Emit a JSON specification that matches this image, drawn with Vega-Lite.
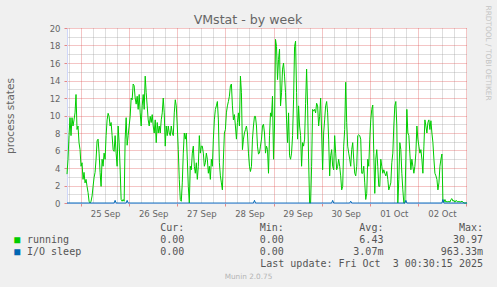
{
 "$schema": "https://vega.github.io/schema/vega-lite/v6.json",
 "width": 400,
 "height": 175,
 "autosize": {"type": "none"},
 "padding": {"left": 67, "top": 28, "right": 30, "bottom": 84},
 "background": "#f0f0f0",
 "config": {"font": "DejaVu Sans", "view": {"stroke": null, "fill": "#ffffff"}},
 "title": {"text": "VMstat - by week", "font": "DejaVu Sans", "fontSize": 12.6, "fontWeight": "normal", "color": "#666666", "anchor": "middle", "frame": "group", "dx": -19, "dy": 26, "offset": 4},
 "layer": [
  {
   "data": {"values": [
{"t":"2025-09-24T17:00Z","running":3.3,"io":0},{"t":"2025-09-24T17:30Z","running":5.0,"io":0},{"t":"2025-09-24T18:00Z","running":7.7,"io":0},{"t":"2025-09-24T18:30Z","running":9.75,"io":0},{"t":"2025-09-24T19:00Z","running":7.7,"io":0},{"t":"2025-09-24T19:30Z","running":9.75,"io":0},{"t":"2025-09-24T20:00Z","running":8.8,"io":0},{"t":"2025-09-24T20:30Z","running":9.5,"io":0},{"t":"2025-09-24T21:00Z","running":10.3,"io":0},{"t":"2025-09-24T21:30Z","running":12.4,"io":0},{"t":"2025-09-24T22:00Z","running":8.4,"io":0},{"t":"2025-09-24T22:30Z","running":8.8,"io":0},{"t":"2025-09-24T23:00Z","running":6.9,"io":0},{"t":"2025-09-24T23:30Z","running":6.1,"io":0},
{"t":"2025-09-25T00:00Z","running":4.2,"io":0},{"t":"2025-09-25T00:30Z","running":4.6,"io":0},{"t":"2025-09-25T01:00Z","running":2.7,"io":0},{"t":"2025-09-25T01:30Z","running":3.5,"io":0},{"t":"2025-09-25T02:00Z","running":2.3,"io":0},{"t":"2025-09-25T02:30Z","running":2.7,"io":0},{"t":"2025-09-25T03:00Z","running":1.9,"io":0},{"t":"2025-09-25T03:30Z","running":1.2,"io":0},{"t":"2025-09-25T04:00Z","running":0.2,"io":0},{"t":"2025-09-25T04:30Z","running":0,"io":0},{"t":"2025-09-25T05:00Z","running":0.2,"io":0},{"t":"2025-09-25T05:30Z","running":0.8,"io":0},{"t":"2025-09-25T06:00Z","running":1.9,"io":0},{"t":"2025-09-25T06:30Z","running":2.9,"io":0},{"t":"2025-09-25T07:00Z","running":3.5,"io":0},{"t":"2025-09-25T07:30Z","running":5.0,"io":0},{"t":"2025-09-25T08:00Z","running":7.1,"io":0},{"t":"2025-09-25T08:30Z","running":7.3,"io":0},{"t":"2025-09-25T09:00Z","running":5.7,"io":0},{"t":"2025-09-25T09:30Z","running":3.5,"io":0},{"t":"2025-09-25T10:00Z","running":1.9,"io":0},{"t":"2025-09-25T10:30Z","running":5.0,"io":0},{"t":"2025-09-25T11:00Z","running":4.2,"io":0},{"t":"2025-09-25T11:30Z","running":5.7,"io":0},{"t":"2025-09-25T12:00Z","running":5.0,"io":0},{"t":"2025-09-25T12:30Z","running":7.7,"io":0},{"t":"2025-09-25T13:00Z","running":9.5,"io":0},{"t":"2025-09-25T13:30Z","running":10.25,"io":0},{"t":"2025-09-25T14:00Z","running":9.9,"io":0},{"t":"2025-09-25T14:30Z","running":8.8,"io":0},{"t":"2025-09-25T15:00Z","running":9.2,"io":0},{"t":"2025-09-25T15:30Z","running":7.7,"io":0},{"t":"2025-09-25T16:00Z","running":6.1,"io":0},{"t":"2025-09-25T16:30Z","running":5.9,"io":0},{"t":"2025-09-25T17:00Z","running":7.7,"io":0.3},{"t":"2025-09-25T17:30Z","running":5.7,"io":0},{"t":"2025-09-25T18:00Z","running":4.2,"io":0},{"t":"2025-09-25T18:30Z","running":8.8,"io":0},{"t":"2025-09-25T19:00Z","running":6.9,"io":0},{"t":"2025-09-25T19:30Z","running":3.9,"io":0},{"t":"2025-09-25T20:00Z","running":0.4,"io":0},{"t":"2025-09-25T20:30Z","running":0.2,"io":0},{"t":"2025-09-25T21:00Z","running":0.4,"io":0},{"t":"2025-09-25T21:30Z","running":0.2,"io":0},{"t":"2025-09-25T22:00Z","running":7.3,"io":0},{"t":"2025-09-25T22:30Z","running":9.75,"io":0},{"t":"2025-09-25T23:00Z","running":6.6,"io":0.3},{"t":"2025-09-25T23:30Z","running":7.7,"io":0},
{"t":"2025-09-26T00:00Z","running":8.8,"io":0},{"t":"2025-09-26T00:30Z","running":9.9,"io":0},{"t":"2025-09-26T01:00Z","running":12.0,"io":0},{"t":"2025-09-26T01:30Z","running":11.8,"io":0},{"t":"2025-09-26T02:00Z","running":13.6,"io":0},{"t":"2025-09-26T02:30Z","running":13.4,"io":0},{"t":"2025-09-26T03:00Z","running":12.0,"io":0},{"t":"2025-09-26T03:30Z","running":11.3,"io":0},{"t":"2025-09-26T04:00Z","running":12.2,"io":0},{"t":"2025-09-26T04:30Z","running":10.7,"io":0},{"t":"2025-09-26T05:00Z","running":12.4,"io":0},{"t":"2025-09-26T05:30Z","running":10.3,"io":0},{"t":"2025-09-26T06:00Z","running":8.8,"io":0},{"t":"2025-09-26T06:30Z","running":11.1,"io":0},{"t":"2025-09-26T07:00Z","running":12.4,"io":0},{"t":"2025-09-26T07:30Z","running":10.7,"io":0},{"t":"2025-09-26T08:00Z","running":14.5,"io":0},{"t":"2025-09-26T08:30Z","running":12.6,"io":0},{"t":"2025-09-26T09:00Z","running":11.1,"io":0},{"t":"2025-09-26T09:30Z","running":9.5,"io":0},{"t":"2025-09-26T10:00Z","running":8.8,"io":0},{"t":"2025-09-26T10:30Z","running":9.9,"io":0},{"t":"2025-09-26T11:00Z","running":9.2,"io":0},{"t":"2025-09-26T11:30Z","running":10.1,"io":0},{"t":"2025-09-26T12:00Z","running":8.8,"io":0},{"t":"2025-09-26T12:30Z","running":8.0,"io":0},{"t":"2025-09-26T13:00Z","running":9.5,"io":0},{"t":"2025-09-26T13:30Z","running":6.9,"io":0},{"t":"2025-09-26T14:00Z","running":9.2,"io":0},{"t":"2025-09-26T14:30Z","running":8.0,"io":0},{"t":"2025-09-26T15:00Z","running":8.8,"io":0},{"t":"2025-09-26T15:30Z","running":8.0,"io":0},{"t":"2025-09-26T16:00Z","running":9.5,"io":0},{"t":"2025-09-26T16:30Z","running":10.3,"io":0},{"t":"2025-09-26T17:00Z","running":12.0,"io":0},{"t":"2025-09-26T17:30Z","running":10.3,"io":0},{"t":"2025-09-26T18:00Z","running":6.5,"io":0},{"t":"2025-09-26T18:30Z","running":8.8,"io":0},{"t":"2025-09-26T19:00Z","running":7.7,"io":0},{"t":"2025-09-26T19:30Z","running":8.8,"io":0},{"t":"2025-09-26T20:00Z","running":8.0,"io":0},{"t":"2025-09-26T20:30Z","running":7.7,"io":0},{"t":"2025-09-26T21:00Z","running":8.8,"io":0},{"t":"2025-09-26T21:30Z","running":8.0,"io":0},{"t":"2025-09-26T22:00Z","running":7.7,"io":0},{"t":"2025-09-26T22:30Z","running":10.3,"io":0},{"t":"2025-09-26T23:00Z","running":11.8,"io":0},{"t":"2025-09-26T23:30Z","running":11.1,"io":0},
{"t":"2025-09-27T00:00Z","running":8.8,"io":0},{"t":"2025-09-27T00:30Z","running":6.1,"io":0},{"t":"2025-09-27T01:00Z","running":2.7,"io":0},{"t":"2025-09-27T01:30Z","running":0.4,"io":0},{"t":"2025-09-27T02:00Z","running":0.2,"io":0},{"t":"2025-09-27T02:30Z","running":2.3,"io":0},{"t":"2025-09-27T03:00Z","running":5.7,"io":0},{"t":"2025-09-27T03:30Z","running":8.0,"io":0},{"t":"2025-09-27T04:00Z","running":7.3,"io":0},{"t":"2025-09-27T04:30Z","running":8.0,"io":0},{"t":"2025-09-27T05:00Z","running":5.0,"io":0},{"t":"2025-09-27T05:30Z","running":1.9,"io":0},{"t":"2025-09-27T06:00Z","running":0,"io":0},{"t":"2025-09-27T06:30Z","running":4.2,"io":0},{"t":"2025-09-27T07:00Z","running":3.8,"io":0},{"t":"2025-09-27T07:30Z","running":5.7,"io":0},{"t":"2025-09-27T08:00Z","running":6.5,"io":0},{"t":"2025-09-27T08:30Z","running":4.2,"io":0},{"t":"2025-09-27T09:00Z","running":3.4,"io":0},{"t":"2025-09-27T09:30Z","running":4.6,"io":0},{"t":"2025-09-27T10:00Z","running":2.7,"io":0},{"t":"2025-09-27T10:30Z","running":4.2,"io":0},{"t":"2025-09-27T11:00Z","running":7.7,"io":0},{"t":"2025-09-27T11:30Z","running":5.7,"io":0},{"t":"2025-09-27T12:00Z","running":6.5,"io":0},{"t":"2025-09-27T12:30Z","running":6.5,"io":0},{"t":"2025-09-27T13:00Z","running":5.7,"io":0},{"t":"2025-09-27T13:30Z","running":4.2,"io":0},{"t":"2025-09-27T14:00Z","running":4.6,"io":0},{"t":"2025-09-27T14:30Z","running":5.7,"io":0},{"t":"2025-09-27T15:00Z","running":5.0,"io":0},{"t":"2025-09-27T15:30Z","running":3.4,"io":0},{"t":"2025-09-27T16:00Z","running":4.2,"io":0},{"t":"2025-09-27T16:30Z","running":2.7,"io":0},{"t":"2025-09-27T17:00Z","running":5.0,"io":0},{"t":"2025-09-27T17:30Z","running":4.2,"io":0},{"t":"2025-09-27T18:00Z","running":7.3,"io":0},{"t":"2025-09-27T18:30Z","running":9.5,"io":0},{"t":"2025-09-27T19:00Z","running":10.7,"io":0},{"t":"2025-09-27T19:30Z","running":11.1,"io":0},{"t":"2025-09-27T20:00Z","running":11.6,"io":0},{"t":"2025-09-27T20:30Z","running":9.5,"io":0},{"t":"2025-09-27T21:00Z","running":4.6,"io":0},{"t":"2025-09-27T21:30Z","running":3.1,"io":0},{"t":"2025-09-27T22:00Z","running":2.3,"io":0},{"t":"2025-09-27T22:30Z","running":1.5,"io":0},{"t":"2025-09-27T23:00Z","running":5.0,"io":0},{"t":"2025-09-27T23:30Z","running":8.0,"io":0},
{"t":"2025-09-28T00:00Z","running":8.4,"io":0},{"t":"2025-09-28T00:30Z","running":10.3,"io":0},{"t":"2025-09-28T01:00Z","running":11.1,"io":0},{"t":"2025-09-28T01:30Z","running":11.6,"io":0},{"t":"2025-09-28T02:00Z","running":12.2,"io":0},{"t":"2025-09-28T02:30Z","running":13.4,"io":0},{"t":"2025-09-28T03:00Z","running":13.6,"io":0},{"t":"2025-09-28T03:30Z","running":11.1,"io":0},{"t":"2025-09-28T04:00Z","running":9.5,"io":0},{"t":"2025-09-28T04:30Z","running":10.1,"io":0},{"t":"2025-09-28T05:00Z","running":8.8,"io":0},{"t":"2025-09-28T05:30Z","running":7.3,"io":0},{"t":"2025-09-28T06:00Z","running":9.2,"io":0},{"t":"2025-09-28T06:30Z","running":10.3,"io":0},{"t":"2025-09-28T07:00Z","running":8.8,"io":0},{"t":"2025-09-28T07:30Z","running":14.5,"io":0},{"t":"2025-09-28T08:00Z","running":12.6,"io":0},{"t":"2025-09-28T08:30Z","running":6.1,"io":0},{"t":"2025-09-28T09:00Z","running":7.3,"io":0},{"t":"2025-09-28T09:30Z","running":8.0,"io":0},{"t":"2025-09-28T10:00Z","running":8.4,"io":0},{"t":"2025-09-28T10:30Z","running":8.8,"io":0},{"t":"2025-09-28T11:00Z","running":8.0,"io":0},{"t":"2025-09-28T11:30Z","running":5.7,"io":0},{"t":"2025-09-28T12:00Z","running":4.2,"io":0},{"t":"2025-09-28T12:30Z","running":3.6,"io":0},{"t":"2025-09-28T13:00Z","running":4.2,"io":0},{"t":"2025-09-28T13:30Z","running":7.3,"io":0},{"t":"2025-09-28T14:00Z","running":8.8,"io":0},{"t":"2025-09-28T14:30Z","running":9.9,"io":0.3},{"t":"2025-09-28T15:00Z","running":9.9,"io":0},{"t":"2025-09-28T15:30Z","running":8.8,"io":0},{"t":"2025-09-28T16:00Z","running":6.5,"io":0},{"t":"2025-09-28T16:30Z","running":5.6,"io":0},{"t":"2025-09-28T17:00Z","running":5.7,"io":0},{"t":"2025-09-28T17:30Z","running":6.5,"io":0},{"t":"2025-09-28T18:00Z","running":7.3,"io":0},{"t":"2025-09-28T18:30Z","running":8.8,"io":0},{"t":"2025-09-28T19:00Z","running":9.0,"io":0},{"t":"2025-09-28T19:30Z","running":8.0,"io":0},{"t":"2025-09-28T20:00Z","running":5.7,"io":0},{"t":"2025-09-28T20:30Z","running":6.5,"io":0},{"t":"2025-09-28T21:00Z","running":6.1,"io":0},{"t":"2025-09-28T21:30Z","running":3.4,"io":0},{"t":"2025-09-28T22:00Z","running":7.7,"io":0},{"t":"2025-09-28T22:30Z","running":10.3,"io":0},{"t":"2025-09-28T23:00Z","running":9.9,"io":0},{"t":"2025-09-28T23:30Z","running":12.2,"io":0},
{"t":"2025-09-29T00:00Z","running":5.0,"io":0},{"t":"2025-09-29T00:30Z","running":8.8,"io":0},{"t":"2025-09-29T01:00Z","running":18.7,"io":0},{"t":"2025-09-29T01:30Z","running":17.9,"io":0},{"t":"2025-09-29T02:00Z","running":14.1,"io":0},{"t":"2025-09-29T02:30Z","running":16.4,"io":0},{"t":"2025-09-29T03:00Z","running":17.6,"io":0},{"t":"2025-09-29T03:30Z","running":11.1,"io":0},{"t":"2025-09-29T04:00Z","running":12.6,"io":0},{"t":"2025-09-29T04:30Z","running":15.3,"io":0},{"t":"2025-09-29T05:00Z","running":16.0,"io":0},{"t":"2025-09-29T05:30Z","running":14.5,"io":0},{"t":"2025-09-29T06:00Z","running":12.6,"io":0},{"t":"2025-09-29T06:30Z","running":9.5,"io":0},{"t":"2025-09-29T07:00Z","running":6.9,"io":0},{"t":"2025-09-29T07:30Z","running":10.3,"io":0},{"t":"2025-09-29T08:00Z","running":5.4,"io":0},{"t":"2025-09-29T08:30Z","running":5.0,"io":0},{"t":"2025-09-29T09:00Z","running":5.7,"io":0},{"t":"2025-09-29T09:30Z","running":7.7,"io":0},{"t":"2025-09-29T10:00Z","running":11.8,"io":0},{"t":"2025-09-29T10:30Z","running":17.9,"io":0},{"t":"2025-09-29T11:00Z","running":18.5,"io":0},{"t":"2025-09-29T11:30Z","running":12.6,"io":0},{"t":"2025-09-29T12:00Z","running":7.3,"io":0},{"t":"2025-09-29T12:30Z","running":11.1,"io":0},{"t":"2025-09-29T13:00Z","running":8.8,"io":0},{"t":"2025-09-29T13:30Z","running":7.7,"io":0},{"t":"2025-09-29T14:00Z","running":4.2,"io":0},{"t":"2025-09-29T14:30Z","running":6.9,"io":0},{"t":"2025-09-29T15:00Z","running":6.5,"io":0},{"t":"2025-09-29T15:30Z","running":7.3,"io":0},{"t":"2025-09-29T16:00Z","running":11.4,"io":0},{"t":"2025-09-29T16:30Z","running":15.3,"io":0},{"t":"2025-09-29T17:00Z","running":11.1,"io":0},{"t":"2025-09-29T17:30Z","running":5.0,"io":0},{"t":"2025-09-29T18:00Z","running":0,"io":0},{"t":"2025-09-29T18:30Z","running":0,"io":0},{"t":"2025-09-29T19:00Z","running":4.2,"io":0},{"t":"2025-09-29T19:30Z","running":10.7,"io":0},{"t":"2025-09-29T20:00Z","running":10.5,"io":0},{"t":"2025-09-29T20:30Z","running":10.7,"io":0},{"t":"2025-09-29T21:00Z","running":10.3,"io":0},{"t":"2025-09-29T21:30Z","running":11.4,"io":0},{"t":"2025-09-29T22:00Z","running":11.1,"io":0},{"t":"2025-09-29T22:30Z","running":8.8,"io":0},{"t":"2025-09-29T23:00Z","running":9.9,"io":0},{"t":"2025-09-29T23:30Z","running":12.0,"io":0},
{"t":"2025-09-30T00:00Z","running":8.0,"io":0},{"t":"2025-09-30T00:30Z","running":3.8,"io":0},{"t":"2025-09-30T01:00Z","running":8.0,"io":0},{"t":"2025-09-30T01:30Z","running":9.5,"io":0},{"t":"2025-09-30T02:00Z","running":11.1,"io":0},{"t":"2025-09-30T02:30Z","running":11.6,"io":0},{"t":"2025-09-30T03:00Z","running":10.3,"io":0},{"t":"2025-09-30T03:30Z","running":7.3,"io":0},{"t":"2025-09-30T04:00Z","running":3.1,"io":0},{"t":"2025-09-30T04:30Z","running":5.4,"io":0},{"t":"2025-09-30T05:00Z","running":6.1,"io":0},{"t":"2025-09-30T05:30Z","running":4.2,"io":0.3},{"t":"2025-09-30T06:00Z","running":3.8,"io":0},{"t":"2025-09-30T06:30Z","running":7.7,"io":0},{"t":"2025-09-30T07:00Z","running":5.7,"io":0},{"t":"2025-09-30T07:30Z","running":3.8,"io":0},{"t":"2025-09-30T08:00Z","running":4.2,"io":0},{"t":"2025-09-30T08:30Z","running":5.0,"io":0},{"t":"2025-09-30T09:00Z","running":4.2,"io":0},{"t":"2025-09-30T09:30Z","running":3.1,"io":0},{"t":"2025-09-30T10:00Z","running":1.5,"io":0},{"t":"2025-09-30T10:30Z","running":1.9,"io":0},{"t":"2025-09-30T11:00Z","running":6.5,"io":0},{"t":"2025-09-30T11:30Z","running":8.4,"io":0},{"t":"2025-09-30T12:00Z","running":13.8,"io":0},{"t":"2025-09-30T12:30Z","running":9.2,"io":0},{"t":"2025-09-30T13:00Z","running":6.5,"io":0},{"t":"2025-09-30T13:30Z","running":5.7,"io":0},{"t":"2025-09-30T14:00Z","running":5.0,"io":0},{"t":"2025-09-30T14:30Z","running":4.2,"io":0.2},{"t":"2025-09-30T15:00Z","running":6.1,"io":0},{"t":"2025-09-30T15:30Z","running":6.9,"io":0},{"t":"2025-09-30T16:00Z","running":5.0,"io":0},{"t":"2025-09-30T16:30Z","running":3.4,"io":0},{"t":"2025-09-30T17:00Z","running":3.1,"io":0},{"t":"2025-09-30T17:30Z","running":4.2,"io":0},{"t":"2025-09-30T18:00Z","running":7.7,"io":0},{"t":"2025-09-30T18:30Z","running":7.8,"io":0},{"t":"2025-09-30T19:00Z","running":7.7,"io":0},{"t":"2025-09-30T19:30Z","running":7.3,"io":0},{"t":"2025-09-30T20:00Z","running":3.4,"io":0},{"t":"2025-09-30T20:30Z","running":3.4,"io":0},{"t":"2025-09-30T21:00Z","running":4.2,"io":0},{"t":"2025-09-30T21:30Z","running":2.3,"io":0},{"t":"2025-09-30T22:00Z","running":0.4,"io":0},{"t":"2025-09-30T22:30Z","running":1.1,"io":0},{"t":"2025-09-30T23:00Z","running":5.0,"io":0},{"t":"2025-09-30T23:30Z","running":4.2,"io":0},
{"t":"2025-10-01T00:00Z","running":7.3,"io":0},{"t":"2025-10-01T00:30Z","running":9.5,"io":0},{"t":"2025-10-01T01:00Z","running":10.7,"io":0},{"t":"2025-10-01T01:30Z","running":11.2,"io":0},{"t":"2025-10-01T02:00Z","running":5.7,"io":0},{"t":"2025-10-01T02:30Z","running":1.1,"io":0},{"t":"2025-10-01T03:00Z","running":5.0,"io":0},{"t":"2025-10-01T03:30Z","running":6.1,"io":0},{"t":"2025-10-01T04:00Z","running":4.2,"io":0},{"t":"2025-10-01T04:30Z","running":1.9,"io":0},{"t":"2025-10-01T05:00Z","running":1.9,"io":0},{"t":"2025-10-01T05:30Z","running":5.0,"io":0},{"t":"2025-10-01T06:00Z","running":4.2,"io":0},{"t":"2025-10-01T06:30Z","running":3.4,"io":0},{"t":"2025-10-01T07:00Z","running":3.8,"io":0},{"t":"2025-10-01T07:30Z","running":3.4,"io":0},{"t":"2025-10-01T08:00Z","running":3.1,"io":0},{"t":"2025-10-01T08:30Z","running":3.6,"io":0},{"t":"2025-10-01T09:00Z","running":2.7,"io":0},{"t":"2025-10-01T09:30Z","running":1.5,"io":0},{"t":"2025-10-01T10:00Z","running":1.9,"io":0},{"t":"2025-10-01T10:30Z","running":2.3,"io":0},{"t":"2025-10-01T11:00Z","running":4.6,"io":0},{"t":"2025-10-01T11:30Z","running":5.7,"io":0},{"t":"2025-10-01T12:00Z","running":8.8,"io":0},{"t":"2025-10-01T12:30Z","running":11.1,"io":0},{"t":"2025-10-01T13:00Z","running":11.6,"io":0},{"t":"2025-10-01T13:30Z","running":8.8,"io":0},{"t":"2025-10-01T14:00Z","running":0,"io":0},{"t":"2025-10-01T14:30Z","running":2.7,"io":0},{"t":"2025-10-01T15:00Z","running":6.9,"io":0},{"t":"2025-10-01T15:30Z","running":6.1,"io":0},{"t":"2025-10-01T16:00Z","running":3.4,"io":0},{"t":"2025-10-01T16:30Z","running":1.5,"io":0},{"t":"2025-10-01T17:00Z","running":0,"io":0},{"t":"2025-10-01T17:30Z","running":0,"io":0},{"t":"2025-10-01T18:00Z","running":5.0,"io":0.3},{"t":"2025-10-01T18:30Z","running":10.7,"io":0},{"t":"2025-10-01T19:00Z","running":8.0,"io":0},{"t":"2025-10-01T19:30Z","running":7.7,"io":0},{"t":"2025-10-01T20:00Z","running":5.7,"io":0},{"t":"2025-10-01T20:30Z","running":3.8,"io":0},{"t":"2025-10-01T21:00Z","running":5.0,"io":0},{"t":"2025-10-01T21:30Z","running":4.2,"io":0},{"t":"2025-10-01T22:00Z","running":3.4,"io":0},{"t":"2025-10-01T22:30Z","running":4.2,"io":0},{"t":"2025-10-01T23:00Z","running":5.7,"io":0},{"t":"2025-10-01T23:30Z","running":8.8,"io":0},
{"t":"2025-10-02T00:00Z","running":7.3,"io":0},{"t":"2025-10-02T00:30Z","running":6.5,"io":0},{"t":"2025-10-02T01:00Z","running":5.7,"io":0},{"t":"2025-10-02T01:30Z","running":6.1,"io":0},{"t":"2025-10-02T02:00Z","running":5.0,"io":0},{"t":"2025-10-02T02:30Z","running":3.4,"io":0},{"t":"2025-10-02T03:00Z","running":6.5,"io":0},{"t":"2025-10-02T03:30Z","running":9.5,"io":0},{"t":"2025-10-02T04:00Z","running":8.8,"io":0},{"t":"2025-10-02T04:30Z","running":8.0,"io":0},{"t":"2025-10-02T05:00Z","running":9.2,"io":0},{"t":"2025-10-02T05:30Z","running":9.5,"io":0},{"t":"2025-10-02T06:00Z","running":8.4,"io":0},{"t":"2025-10-02T06:30Z","running":9.4,"io":0},{"t":"2025-10-02T07:00Z","running":8.0,"io":0},{"t":"2025-10-02T07:30Z","running":6.9,"io":0},{"t":"2025-10-02T08:00Z","running":5.0,"io":0},{"t":"2025-10-02T08:30Z","running":3.4,"io":0},{"t":"2025-10-02T09:00Z","running":3.1,"io":0},{"t":"2025-10-02T09:30Z","running":2.7,"io":0},{"t":"2025-10-02T10:00Z","running":1.5,"io":0},{"t":"2025-10-02T10:30Z","running":2.3,"io":0},{"t":"2025-10-02T11:00Z","running":4.2,"io":0},{"t":"2025-10-02T11:30Z","running":5.0,"io":0},{"t":"2025-10-02T12:00Z","running":5.6,"io":0},{"t":"2025-10-02T12:30Z","running":0.2,"io":0.4},{"t":"2025-10-02T13:00Z","running":0.1,"io":0},{"t":"2025-10-02T13:30Z","running":0.4,"io":0},{"t":"2025-10-02T14:00Z","running":0.1,"io":0},{"t":"2025-10-02T14:30Z","running":0.2,"io":0},{"t":"2025-10-02T15:00Z","running":0.1,"io":0},{"t":"2025-10-02T15:30Z","running":0.2,"io":0},{"t":"2025-10-02T16:00Z","running":0.1,"io":0},{"t":"2025-10-02T16:30Z","running":0.4,"io":0},{"t":"2025-10-02T17:00Z","running":0.5,"io":0},{"t":"2025-10-02T17:30Z","running":0.2,"io":0},{"t":"2025-10-02T18:00Z","running":0.3,"io":0},{"t":"2025-10-02T18:30Z","running":0.1,"io":0},{"t":"2025-10-02T19:00Z","running":0.3,"io":0},{"t":"2025-10-02T19:30Z","running":0.2,"io":0},{"t":"2025-10-02T20:00Z","running":0.1,"io":0},{"t":"2025-10-02T20:30Z","running":0.2,"io":0},{"t":"2025-10-02T21:00Z","running":0.1,"io":0},{"t":"2025-10-02T21:30Z","running":0.15,"io":0},{"t":"2025-10-02T22:00Z","running":0.2,"io":0},{"t":"2025-10-02T22:30Z","running":0.1,"io":0},{"t":"2025-10-02T23:00Z","running":0,"io":0},{"t":"2025-10-02T23:30Z","running":0,"io":0},
{"t":"2025-10-03T00:00Z","running":0,"io":0},{"t":"2025-10-03T00:30Z","running":0,"io":0}
   ]},
   "transform": [{"fold": ["running", "io"], "as": ["series", "val"]}],
   "mark": {"type": "line", "strokeWidth": 1, "clip": false},
   "encoding": {
    "x": {
     "field": "t", "type": "temporal",
     "scale": {"type": "utc"},
     "axis": {
      "title": "Munin 2.0.75", "titleX": 181, "titleY": 73, "titleFontSize": 7.3, "titleColor": "#b4b4b4", "titleFontWeight": "normal", "titleAlign": "center", "titleBaseline": "middle",
      "values": [1758736800000,1758758400000,1758780000000,1758801600000,1758823200000,1758844800000,1758866400000,1758888000000,1758909600000,1758931200000,1758952800000,1758974400000,1758996000000,1759017600000,1759039200000,1759060800000,1759082400000,1759104000000,1759125600000,1759147200000,1759168800000,1759190400000,1759212000000,1759233600000,1759255200000,1759276800000,1759298400000,1759320000000,1759341600000,1759363200000,1759384800000,1759406400000,1759428000000,1759449600000],
      "labelExpr": "utchours(datum.value) == 12 ? utcFormat(datum.value, '%d %b') : ''",
      "labelFontSize": 8.5, "labelColor": "#666666", "labelPadding": 3.5, "labelOverlap": false, "labelFlush": false,
      "grid": true,
      "gridColor": {"condition": {"test": "utchours(datum.value) == 0", "value": "#de4f4f"}, "value": "#9a9a9a"},
      "gridOpacity": 0.65, "gridDash": [1, 1], "gridWidth": 1,
      "tickSize": 3, "tickColor": "#de4f4f",
      "tickOpacity": {"condition": {"test": "utchours(datum.value) == 0", "value": 0.65}, "value": 0},
      "domainColor": "#cfd6f8"
     }
    },
    "y": {
     "field": "val", "type": "quantitative",
     "scale": {"domain": [0, 20], "nice": false},
     "axis": {
      "orient": "left",
      "values": [0,1,2,3,4,5,6,7,8,9,10,11,12,13,14,15,16,17,18,19,20],
      "labelExpr": "datum.value % 2 == 0 ? datum.label : ''",
      "labelFontSize": 8.5, "labelColor": "#666666", "labelPadding": 4, "labelOverlap": false,
      "tickSize": 3, "tickColor": "#de4f4f",
      "tickOpacity": {"condition": {"test": "datum.value % 2 == 0", "value": 0.65}, "value": 0},
      "grid": true,
      "gridColor": {"condition": {"test": "datum.value % 2 == 0", "value": "#de4f4f"}, "value": "#9a9a9a"},
      "gridOpacity": 0.65, "gridDash": [1, 1],
      "domainColor": "#cfd6f8",
      "title": "process states", "titleFontSize": 10.5, "titleColor": "#666666", "titleFontWeight": "normal",
      "titleX": -54, "titleBaseline": "alphabetic"
     }
    },
    "color": {"field": "series", "type": "nominal", "scale": {"domain": ["running", "io"], "range": ["#00cc00", "#0066b3"]}, "legend": null}
   }
  },
  {
   "data": {"values": [
    {"row": "header", "stat": "Cur", "kind": "value", "label": "Cur:\u00a0\u00a0"},
    {"row": "header", "stat": "Min", "kind": "value", "label": "Min:\u00a0\u00a0"},
    {"row": "header", "stat": "Avg", "kind": "value", "label": "Avg:\u00a0\u00a0"},
    {"row": "header", "stat": "Max", "kind": "value", "label": "Max:\u00a0\u00a0"},
    {"row": "running", "stat": "Cur", "kind": "name", "label": "running"},
    {"row": "running", "stat": "Cur", "kind": "value", "label": "0.00\u00a0"},
    {"row": "running", "stat": "Min", "kind": "value", "label": "0.00\u00a0"},
    {"row": "running", "stat": "Avg", "kind": "value", "label": "6.43\u00a0"},
    {"row": "running", "stat": "Max", "kind": "value", "label": "30.97\u00a0"},
    {"row": "io", "stat": "Cur", "kind": "name", "label": "I/O sleep"},
    {"row": "io", "stat": "Cur", "kind": "value", "label": "0.00\u00a0"},
    {"row": "io", "stat": "Min", "kind": "value", "label": "0.00\u00a0"},
    {"row": "io", "stat": "Avg", "kind": "value", "label": "3.07m"},
    {"row": "io", "stat": "Max", "kind": "value", "label": "963.33m"},
    {"row": "last", "stat": "Max", "kind": "value", "label": "Last update: Fri Oct\u00a0\u00a03 00:30:15 2025"}
   ]},
   "encoding": {
    "x": {"field": "stat", "type": "nominal", "scale": {"type": "point", "domain": ["Cur", "Min", "Avg", "Max"], "range": [117.3, 416], "padding": 0}, "axis": null},
    "y": {"field": "row", "type": "nominal", "scale": {"type": "point", "domain": ["header", "running", "io", "last"], "range": [200.3, 235.7], "padding": 0},
     "axis": {"orient": "right", "labels": false, "ticks": false, "domain": false, "grid": false,
      "title": "RRDTOOL / TOBI OETIKER", "titleFontSize": 7.4, "titleColor": "#c4c4c4", "titleFontWeight": "normal",
      "titleAngle": 90, "titleX": 20.5, "titleY": -23, "titleAlign": "left", "titleBaseline": "middle"}}
   },
   "layer": [
    {
     "transform": [{"filter": "datum.kind == 'value'"}],
     "mark": {"type": "text", "align": "right", "baseline": "middle", "font": "DejaVu Sans Mono", "fontSize": 10, "color": "#555555"},
     "encoding": {"text": {"field": "label"}}
    },
    {
     "transform": [{"filter": "datum.kind == 'name'"}],
     "mark": {"type": "text", "align": "left", "baseline": "middle", "font": "DejaVu Sans Mono", "fontSize": 10, "color": "#555555", "dx": -157.3},
     "encoding": {"text": {"field": "label"}}
    },
    {
     "transform": [{"filter": "datum.kind == 'name'"}],
     "mark": {"type": "text", "align": "center", "baseline": "middle", "font": "DejaVu Sans Mono", "fontSize": 10, "dx": -167, "text": "\u25a0"},
     "encoding": {
      "color": {"field": "row", "type": "nominal", "scale": {"domain": ["running", "io"], "range": ["#00cc00", "#0066b3"]}, "legend": null}
     }
    }
   ]
  }
 ],
 "resolve": {"scale": {"x": "independent", "y": "independent"}}
}
